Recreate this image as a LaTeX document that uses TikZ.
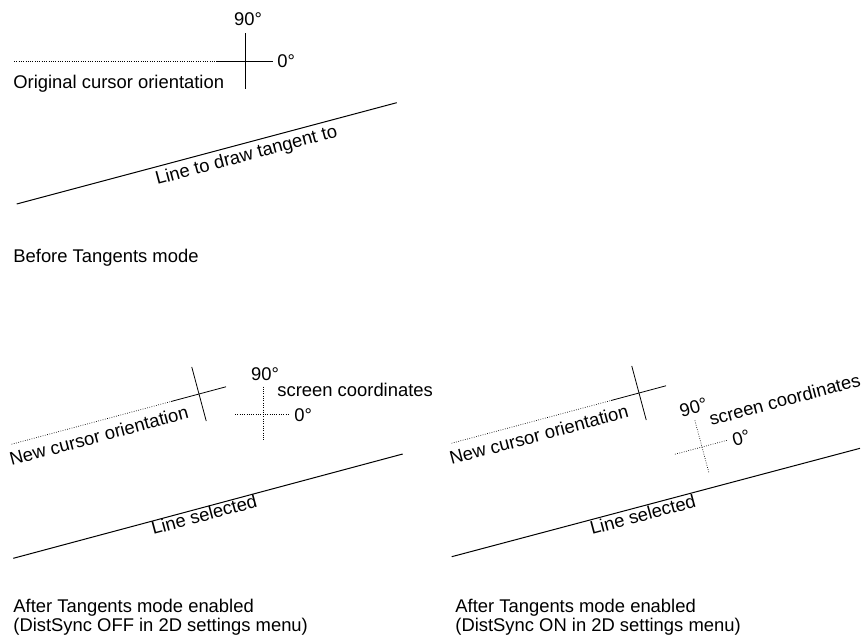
\documentclass[tikz,border=0pt]{standalone}
\usepackage{fontspec}
\setmainfont{Liberation Sans}
\usetikzlibrary{calc}

\begin{document}
\begin{tikzpicture}[x=1pt,y=-1pt,line width=0.8pt,color=black,
    lbl/.style={inner sep=0pt,font=\fontsize{18.4}{19}\selectfont},
    dotline/.style={line width=0.7pt,dash pattern=on 0.7pt off 1.6pt},
    longline/.style={line width=1pt}]
  \useasboundingbox (0,0) rectangle (862,637);
  % before tangents mode
  \coordinate (c) at (245,61);
  \coordinate (d) at (14,61);
  \coordinate (cl) at (217,61);
  \coordinate (cr) at (273,61);
  \coordinate (ct) at (245,33);
  \coordinate (cb) at (245,89);
  \draw[dotline] (d) -- (cl);
  \draw (cl) -- (cr);
  \draw (ct) -- (cb);
  \node[lbl,anchor=base] (deg90) at (248,25) {90°};
  \node[lbl,anchor=base west] (deg0) at (277,67) {0°};
  \node[lbl,anchor=base west] (orig) at (13,88) {Original cursor orientation};
  \coordinate (t1) at (16.7,204);
  \coordinate (t2) at (396.7,102.7);
  \draw[longline] (t1) -- (t2);
  \node[lbl,rotate=15,anchor=base west] (tan) at (157,185) {Line to draw tangent to};
  \node[lbl,anchor=base west] (before) at (13,262) {Before Tangents mode};
  % after, DistSync off
  \begin{scope}[shift={(199,394)},rotate=15,transform shape]
    \coordinate (d) at (-194,0);
    \coordinate (cl) at (-29,0);
    \coordinate (cr) at (28,0);
    \coordinate (ct) at (0,-28);
    \coordinate (cb) at (0,28);
    \draw[dotline] (d) -- (cl);
    \draw (cl) -- (cr);
    \draw (ct) -- (cb);
    \node[lbl,anchor=base west] (new) at (-200,21) {New cursor orientation};
  \end{scope}
  \begin{scope}[shift={(263,414)}]
    \coordinate (sl) at (-28,0);
    \coordinate (sr) at (27,0);
    \coordinate (st) at (0,-27.5);
    \coordinate (sb) at (0,27.5);
    \draw[dotline] (sl) -- (sr);
    \draw[dotline] (st) -- (sb);
    \node[lbl,anchor=base] (s90) at (2,-34) {90°};
    \node[lbl,anchor=base west] (s0) at (31,7.5) {0°};
    \node[lbl,anchor=base west] (scr) at (14,-18) {screen coordinates};
  \end{scope}
  \coordinate (l1) at (13.3,558.3);
  \coordinate (l2) at (402.7,454);
  \draw[longline] (l1) -- (l2);
  \node[lbl,rotate=15,anchor=base west] (sel) at (153,535) {Line selected};
  \node[lbl,anchor=north west,align=left] (offcap) at (13,599)
    {After Tangents mode enabled\\(DistSync OFF in 2D settings menu)};
  % after, DistSync on
  \begin{scope}[shift={(639,393)},rotate=15,transform shape]
    \coordinate (d) at (-194,0);
    \coordinate (cl) at (-29,0);
    \coordinate (cr) at (28,0);
    \coordinate (ct) at (0,-28);
    \coordinate (cb) at (0,28);
    \draw[dotline] (d) -- (cl);
    \draw (cl) -- (cr);
    \draw (ct) -- (cb);
    \node[lbl,anchor=base west] (new) at (-200,21) {New cursor orientation};
  \end{scope}
  \begin{scope}[shift={(702,447)},rotate=15,transform shape]
    \coordinate (sl) at (-28,0);
    \coordinate (sr) at (27,0);
    \coordinate (st) at (0,-27.5);
    \coordinate (sb) at (0,27.5);
    \draw[dotline] (sl) -- (sr);
    \draw[dotline] (st) -- (sb);
    \node[lbl,anchor=base] (s90) at (2,-34) {90°};
    \node[lbl,anchor=base west] (s0) at (31,7.5) {0°};
    \node[lbl,anchor=base west] (scr) at (14,-18) {screen coordinates};
  \end{scope}
  \coordinate (l1) at (451.7,556.7);
  \coordinate (l2) at (860,448.3);
  \draw[longline] (l1) -- (l2);
  \node[lbl,rotate=15,anchor=base west] (sel) at (591.7,535) {Line selected};
  \node[lbl,anchor=north west,align=left] (oncap) at (455,599)
    {After Tangents mode enabled\\(DistSync ON in 2D settings menu)};
\end{tikzpicture}
\end{document}
